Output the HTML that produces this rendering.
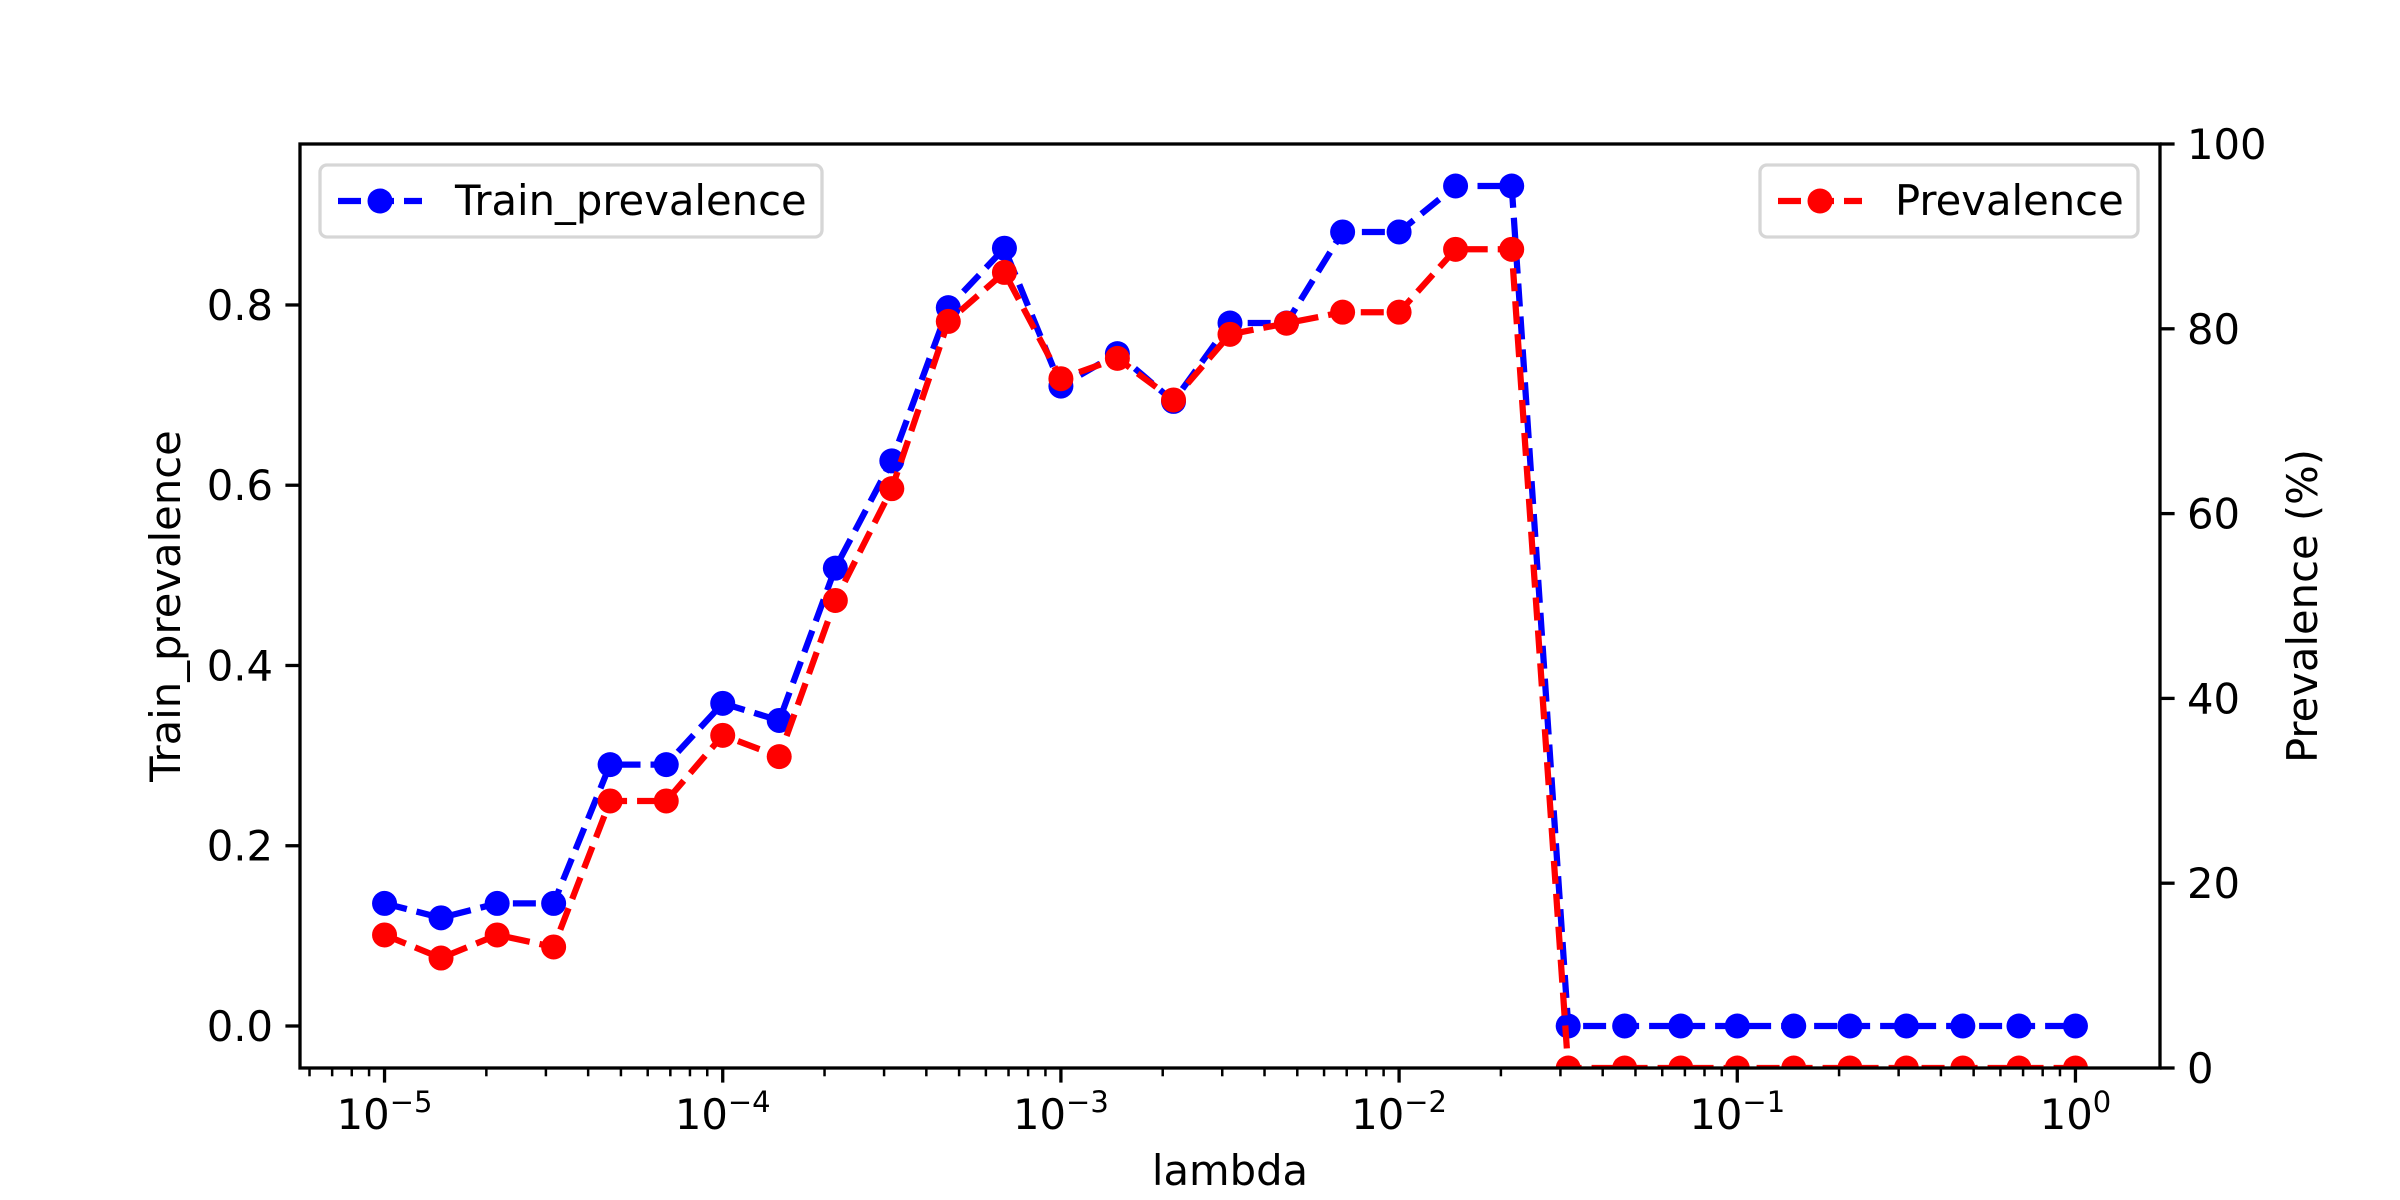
<!DOCTYPE html>
<html><head><meta charset="utf-8"><style>
html,body{margin:0;padding:0;background:#fff;}
svg{display:block;}
text{font-family:"DejaVu Sans","Liberation Sans",sans-serif;fill:#000;}
</style></head><body>
<svg id="chart" width="2400" height="1200" viewBox="0 0 2400 1200" xmlns="http://www.w3.org/2000/svg">
<defs><clipPath id="clip"><rect x="300" y="144" width="1860" height="924"/></clipPath></defs>
<rect width="2400" height="1200" fill="#fff"/>
<g id="series"></g>
<g id="axes"></g>
</svg>
<script>
const lambdaExp = [-5,-4.833,-4.667,-4.5,-4.333,-4.167,-4,-3.833,-3.667,-3.5,-3.333,-3.167,-3,-2.833,-2.667,-2.5,-2.333,-2.167,-2,-1.833,-1.667,-1.5,-1.333,-1.167,-1,-0.833,-0.667,-0.5,-0.333,-0.167,0];
const trainPrevalence = [0.136,0.12,0.136,0.136,0.29,0.29,0.358,0.339,0.508,0.627,0.797,0.863,0.71,0.746,0.693,0.78,0.78,0.881,0.881,0.932,0.932,0,0,0,0,0,0,0,0,0,0];
const prevalence = [14.4,11.9,14.4,13.1,28.9,28.9,36.0,33.7,50.6,62.7,80.8,86.1,74.6,76.8,72.3,79.4,80.6,81.8,81.8,88.6,88.6,0,0,0,0,0,0,0,0,0,0];
const leftTicks = [0.0,0.2,0.4,0.6,0.8];
const rightTicks = [0,20,40,60,80,100];
const xMajorExp = [-5,-4,-3,-2,-1,0];

const L=300,R=2160,T=144,B=1068;
const xmin=-5.25,xmax=0.25;
const lmin=-0.0466,lmax=0.9786;
const rmin=0,rmax=100;
const NS="http://www.w3.org/2000/svg";
const sx=e=>L+(e-xmin)/(xmax-xmin)*(R-L);
const syL=v=>B-(v-lmin)/(lmax-lmin)*(B-T);
const syR=v=>B-(v-rmin)/(rmax-rmin)*(B-T);
function mk(tag,attrs,parent,txt){const el=document.createElementNS(NS,tag);for(const k in attrs)el.setAttribute(k,attrs[k]);if(txt!==undefined)el.textContent=txt;parent.appendChild(el);return el;}
const ser=document.getElementById('series');
const ax=document.getElementById('axes');

function drawSeries(vals,sy,color,name){
  const g=mk('g',{'clip-path':'url(#clip)'},ser);
  
  
  const pts=vals.map((v,i)=>sx(lambdaExp[i]).toFixed(1)+','+sy(v).toFixed(1)).join(' ');
  const pl=mk('polyline',{points:pts,fill:'none',stroke:color,'stroke-width':6.25,'stroke-dasharray':'23 10'},g);
  
  
  vals.forEach((v,i)=>{
    const c=mk('circle',{cx:sx(lambdaExp[i]),cy:sy(v),r:12.5,fill:color},g);
    
    
  });
}
drawSeries(trainPrevalence,syL,'#0000ff','train-prevalence');
drawSeries(prevalence,syR,'#ff0000','prevalence');

// frame
const fr=mk('rect',{x:L,y:T,width:R-L,height:B-T,fill:'none',stroke:'#000','stroke-width':3.3},ax);



// x ticks
xMajorExp.forEach(e=>{
  const x=sx(e);
  mk('line',{x1:x,y1:B,x2:x,y2:B+14.6,stroke:'#000','stroke-width':3.3},ax);
  const t=mk('text',{x:x,y:1129,'font-size':41.7,'text-anchor':'middle'},ax);
  
  
  const a=mk('tspan',{},t,'10');
  const b=mk('tspan',{dy:-17,'font-size':29},t,e===0?'0':'\u2212'+(-e));
});
for(let d=-6;d<=0;d++){for(let m=2;m<=9;m++){const e=d+Math.log10(m);if(e<xmin||e>xmax)continue;const x=sx(e);
  mk('line',{x1:x,y1:B,x2:x,y2:B+8.3,stroke:'#000','stroke-width':2.5},ax);}}
// left ticks
leftTicks.forEach(v=>{const y=syL(v);
  mk('line',{x1:L,y1:y,x2:L-14.6,y2:y,stroke:'#000','stroke-width':3.3},ax);
  const t=mk('text',{x:L-27,y:y+15,'font-size':41.7,'text-anchor':'end'},ax,v.toFixed(1));
  
  
});
rightTicks.forEach(v=>{const y=syR(v);
  mk('line',{x1:R,y1:y,x2:R+14.6,y2:y,stroke:'#000','stroke-width':3.3},ax);
  const t=mk('text',{x:R+27,y:y+15,'font-size':41.7,'text-anchor':'start'},ax,String(v));
  
  
});
</script>
<svg style="position:absolute;left:0;top:0" width="2400" height="1200" viewBox="0 0 2400 1200" xmlns="http://www.w3.org/2000/svg">
<text x="1230" y="1185" font-size="41.7" text-anchor="middle">lambda</text>
<text transform="translate(180,606) rotate(-90)" font-size="41.7" text-anchor="middle">Train_prevalence</text>
<text transform="translate(2317,606) rotate(-90)" font-size="41.7" text-anchor="middle">Prevalence (%)</text>
<g>
<rect x="320" y="165" width="502" height="72" rx="7" fill="#fff" fill-opacity="0.8" stroke="#d6d6d6" stroke-width="3.3"/>
<line x1="338" y1="201" x2="422" y2="201" stroke="#0000ff" stroke-width="6.25" stroke-dasharray="23 10"/>
<circle cx="380" cy="201" r="12.5" fill="#0000ff"/>
<text x="455" y="215" font-size="41.7">Train_prevalence</text>
</g>
<g>
<rect x="1760" y="165" width="378" height="72" rx="7" fill="#fff" fill-opacity="0.8" stroke="#d6d6d6" stroke-width="3.3"/>
<line x1="1778" y1="201" x2="1862" y2="201" stroke="#ff0000" stroke-width="6.25" stroke-dasharray="23 10"/>
<circle cx="1820" cy="201" r="12.5" fill="#ff0000"/>
<text x="1895" y="215" font-size="41.7">Prevalence</text>
</g>
</svg>
</body></html>
